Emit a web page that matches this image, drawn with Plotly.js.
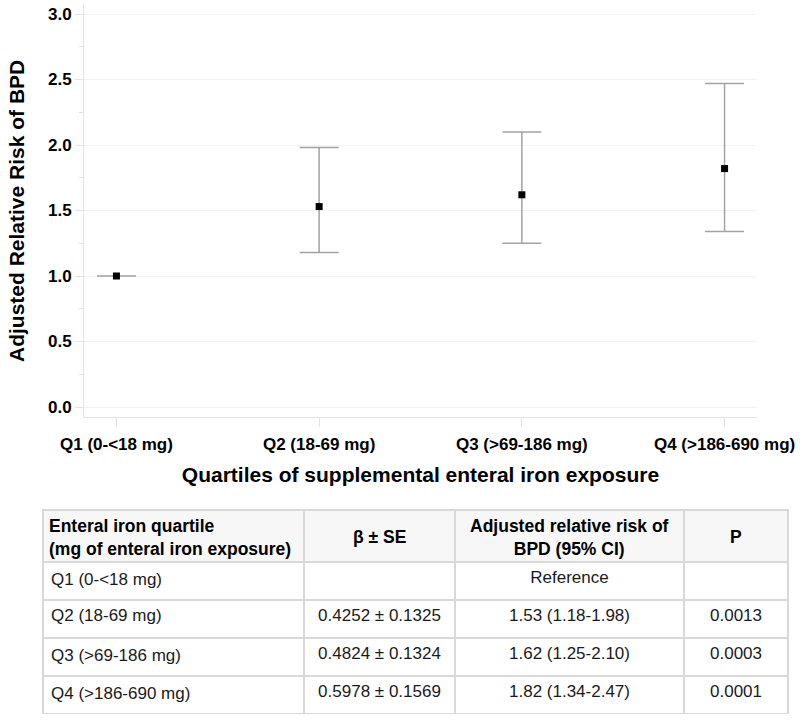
<!DOCTYPE html>
<html>
<head>
<meta charset="utf-8">
<script src="https://cdn.plot.ly/plotly-3.0.1.min.js"></script>
<style>html,body{margin:0;padding:0;background:#fff;}#chart{width:800px;height:721px;}</style>
</head>
<body>
<div id="chart"></div>
<script>
// ---- data ----
const categories = ["Q1 (0-<18 mg)", "Q2 (18-69 mg)", "Q3 (>69-186 mg)", "Q4 (>186-690 mg)"];
const relRisk = [1.00, 1.53, 1.62, 1.82];
const ciLower = [1.00, 1.18, 1.25, 1.34];
const ciUpper = [1.00, 1.98, 2.10, 2.47];
const betaSE = ["", "0.4252 ± 0.1325", "0.4824 ± 0.1324", "0.5978 ± 0.1569"];
const rrText = ["Reference", "1.53 (1.18-1.98)", "1.62 (1.25-2.10)", "1.82 (1.34-2.47)"];
const pValues = ["", "0.0013", "0.0003", "0.0001"];
const tableHeaders = ["Enteral iron quartile<br>(mg of enteral iron exposure)", "β ± SE", "Adjusted relative risk of<br>BPD (95% CI)", "P"];
const yTickVals = [0.0, 0.5, 1.0, 1.5, 2.0, 2.5, 3.0];

const FONT = "Arial, 'Liberation Sans', Helvetica, sans-serif";
const W = 800, H = 721;

const errPlus = relRisk.map((v, i) => ciUpper[i] - v);
const errMinus = relRisk.map((v, i) => v - ciLower[i]);

const points = {
  type: 'scatter',
  mode: 'markers',
  x: categories,
  y: relRisk,
  marker: {symbol: 'square', size: 7, color: '#000'},
  error_y: {type: 'data', symmetric: false, array: errPlus, arrayminus: errMinus,
            color: '#a3a3a3', thickness: 1.5, width: 19.5},
  showlegend: false,
  hoverinfo: 'x+y',
  xaxis: 'x', yaxis: 'y'
};

// table geometry (pixels)
const tblLeft = 43, tblRight = 788, tblTop = 510, tblBottom = 714, hdrH = 52, rowH = 38;
const colW = [261, 151, 229, 104];
const hdrAlign = ['left', 'center', 'center', 'center'];

// header text is drawn as annotations so that it can be vertically centred
const table = {
  type: 'table',
  domain: {x: [tblLeft / W, tblRight / W], y: [1 - tblBottom / H, 1 - tblTop / H]},
  columnwidth: colW,
  header: {
    values: tableHeaders.map(() => ['']),
    align: hdrAlign,
    height: hdrH,
    fill: {color: '#f7f7f7'},
    line: {color: '#d9d9d9', width: 2},
    font: {family: FONT, size: 16, color: '#000'}
  },
  cells: {
    values: [categories, betaSE, rrText, pValues],
    align: ['left', 'center', 'center', 'center'],
    height: rowH,
    fill: {color: '#fff'},
    line: {color: '#d9d9d9', width: 2},
    font: {family: FONT, size: 17, color: '#1a1a1a'}
  }
};

const totalW = colW.reduce((a, b) => a + b, 0);
const annotations = [];
let acc = 0;
tableHeaders.forEach((h, i) => {
  const left = tblLeft + (tblRight - tblLeft) * acc / totalW;
  acc += colW[i];
  const right = tblLeft + (tblRight - tblLeft) * acc / totalW;
  const isLeft = hdrAlign[i] === 'left';
  annotations.push({
    xref: 'paper', yref: 'paper',
    x: (isLeft ? left + 4 : (left + right) / 2) / W,
    y: 1 - (tblTop + hdrH / 2 + 1) / H,
    xanchor: isLeft ? 'left' : 'center', yanchor: 'middle', align: isLeft ? 'left' : 'center',
    showarrow: false,
    text: '<b>' + h + '</b>', font: {family: FONT, size: 17.5, color: '#000'}
  });
});
annotations.push({
  xref: 'paper', yref: 'paper', x: 16 / W, y: 1 - 211 / H, textangle: -90,
  xanchor: 'center', yanchor: 'middle', showarrow: false,
  text: '<b>Adjusted Relative Risk of BPD</b>', font: {family: FONT, size: 21, color: '#000'}
});

const layout = {
  width: W, height: H,
  margin: {l: 0, r: 0, t: 0, b: 0},
  paper_bgcolor: '#fff', plot_bgcolor: '#fff',
  font: {family: FONT, color: '#000'},
  showlegend: false,
  annotations: annotations,
  xaxis: {
    type: 'category',
    domain: [84 / W, 757 / W],
    range: [-0.16, 3.16],
    showgrid: false,
    zeroline: false,
    showline: true, linecolor: '#e3e3e3', linewidth: 1,
    ticks: 'outside', ticklen: 9, tickcolor: '#e3e3e3',
    ticklabelstandoff: 3,
    tickfont: {family: FONT, size: 17, color: '#000', weight: 'bold'},
    title: {text: '<b>Quartiles of supplemental enteral iron exposure</b>', font: {family: FONT, size: 21, color: '#000'}, standoff: 13},
    automargin: false
  },
  yaxis: {
    domain: [1 - 417 / H, 1 - 3 / H],
    range: [-0.0763, 3.084],
    tickvals: yTickVals,
    ticktext: yTickVals.map(v => v.toFixed(1)),
    showgrid: true, gridcolor: '#f2f2f2', gridwidth: 1,
    zeroline: false,
    showline: true, linecolor: '#e3e3e3', linewidth: 1,
    ticks: 'outside', ticklen: 8, tickcolor: '#e3e3e3',
    minor: {dtick: 0.25, tick0: 0, ticks: 'outside', ticklen: 4, tickcolor: '#e3e3e3', showgrid: false},
    tickfont: {family: FONT, size: 17, color: '#000', weight: 'bold'},
    automargin: false
  }
};

Plotly.newPlot('chart', [points, table], layout, {displayModeBar: false, staticPlot: true});
</script>
</body>
</html>
